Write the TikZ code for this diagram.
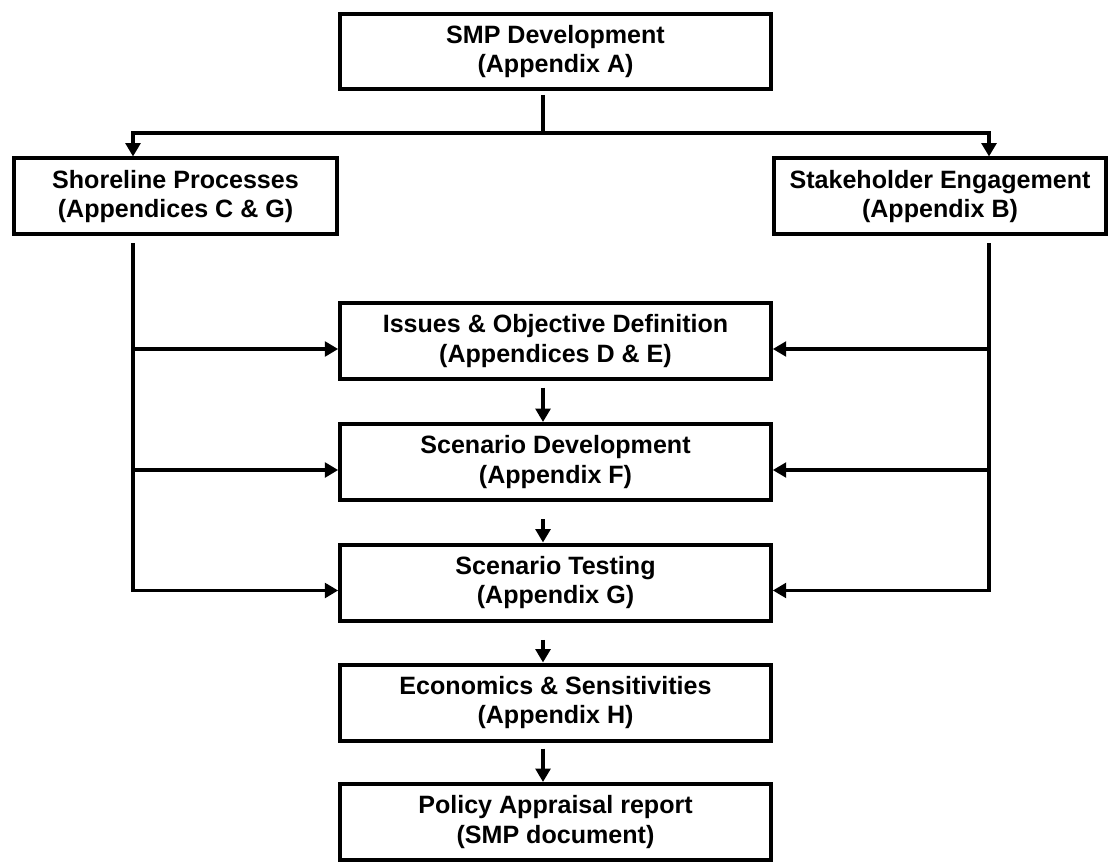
\documentclass[tikz,border=0pt]{standalone}
\usepackage{fontspec}
\setmainfont{Liberation Sans}
\usetikzlibrary{arrows.meta}
\begin{document}
\begin{tikzpicture}[x=0.75pt,y=-0.75pt,
  box/.style={draw,line width=3pt,rectangle,align=center,inner sep=0pt,
    minimum height=57pt,font=\fontsize{18.8}{21.8}\selectfont\bfseries},
  link/.style={line width=2.6pt},
  flow/.style={line width=2.6pt,-{Triangle[length=10pt,width=11pt]}}]
  \useasboundingbox (0,0) rectangle (1119,862);
  \node[box,minimum width=323pt,minimum height=56pt] (smp) at (555.5,51.5) {SMP Development\\(Appendix A)};
  \node[box,minimum width=242pt] (shore) at (175.5,196.5) {Shoreline Processes\\(Appendices C \& G)};
  \node[box,minimum width=249pt] (stake) at (940,196.5) {Stakeholder Engagement\\(Appendix B)};
  \node[box,minimum width=323pt] (issues) at (555.5,341) {Issues \& Objective Definition\\(Appendices D \& E)};
  \node[box,minimum width=323pt] (scendev) at (555.5,462) {Scenario Development\\(Appendix F)};
  \node[box,minimum width=323pt] (scentest) at (555.5,582.5) {Scenario Testing\\(Appendix G)};
  \node[box,minimum width=323pt] (econ) at (555.5,702.5) {Economics \& Sensitivities\\(Appendix H)};
  \node[box,minimum width=323pt] (policy) at (555.5,822) {Policy Appraisal report\\(SMP document)};
  \coordinate (split) at (543,133);
  \coordinate (lbus) at (133,133);
  \coordinate (rbus) at (989,133);
  % split from the top box
  \draw[link,shorten <=3pt] (smp.south -| split) -- (split);
  \draw[flow] (split) -- (lbus) -- (lbus |- shore.north);
  \draw[flow] (split) -- (rbus) -- (rbus |- stake.north);
  % side feeds
  \draw[flow] ([yshift=-5pt]shore.south -| lbus) -- ([yshift=-6pt]scentest.west -| lbus) -- ([yshift=-6pt]scentest.west);
  \draw[flow] ([yshift=-5pt]stake.south -| rbus) -- ([yshift=-6pt]scentest.east -| rbus) -- ([yshift=-6pt]scentest.east);
  \foreach \b in {issues, scendev} {
    \draw[flow] ([yshift=-6pt]\b.west -| lbus) -- ([yshift=-6pt]\b.west);
    \draw[flow] ([yshift=-6pt]\b.east -| rbus) -- ([yshift=-6pt]\b.east);
  }
  % main chain
  \foreach \a/\b/\g in {issues/scendev/5pt, scendev/scentest/13pt, scentest/econ/13pt, econ/policy/4.5pt} {
    \draw[flow,shorten <=\g] (\a.south -| split) -- (\b.north -| split);
  }
\end{tikzpicture}
\end{document}
